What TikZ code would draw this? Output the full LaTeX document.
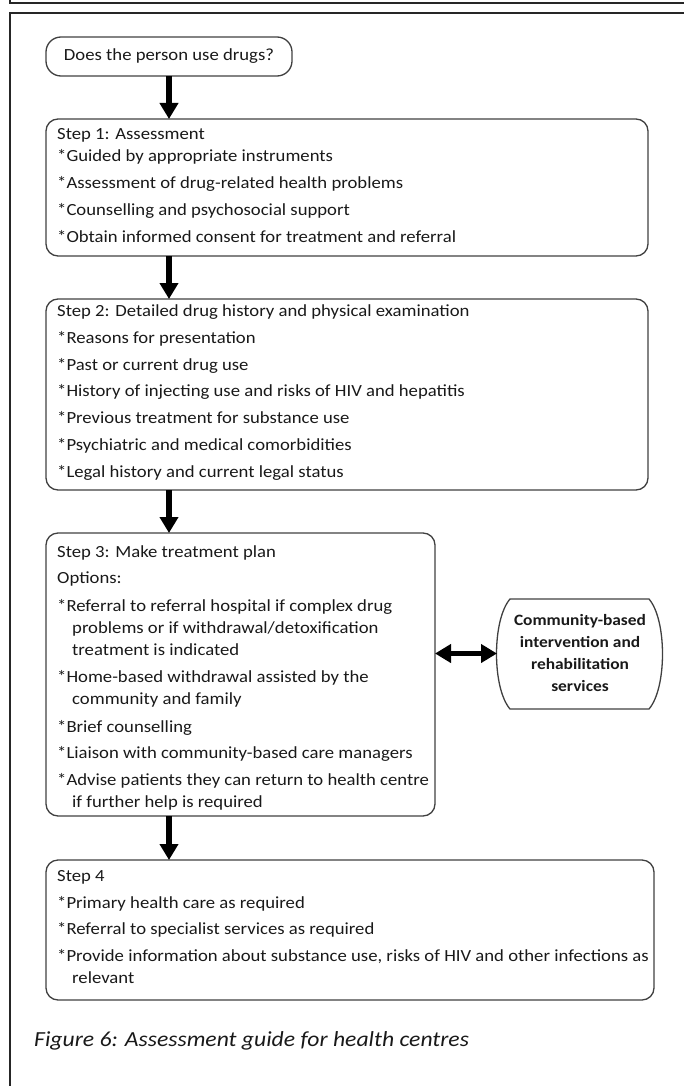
\documentclass[tikz,border=0pt]{standalone}
\usepackage{fontspec}
\setmainfont{Carlito}[FakeStretch=1.1]
\usetikzlibrary{arrows.meta,calc}
\begin{document}
\begin{tikzpicture}[x=1pt,y=-1pt,
  box/.style={draw=black!75, line width=1.3pt, rounded corners=12pt, outer sep=0pt, inner sep=0pt, anchor=north west},
  txt/.style={anchor=base west, inner sep=0pt, align=left, font=\fontsize{17}{22}\selectfont, text=black!90},
  arr/.style={line width=5.5pt, -{Triangle[length=16pt,width=18pt]}},
  darr/.style={line width=5.5pt, {Triangle[length=16pt,width=18pt]}-{Triangle[length=16pt,width=18pt]}},
  frame/.style={line width=2pt, draw=black!85}]
\useasboundingbox (0,0) rectangle (683,1086);
% frames
\draw[frame] (10,-2) -- (10,2.7) -- (690,2.7);
\draw[frame] (690,13) -- (10,13) -- (10,1090);
% start
\node[draw=black!75, line width=1.3pt, rounded corners=15pt, outer sep=0pt, minimum width=246pt, minimum height=39pt, font=\fontsize{17}{22}\selectfont, text=black!90] (q) at (169,56.5) {Does the person use drugs?};
% boxes
\node[box, minimum width=602pt, minimum height=137pt] (s1) at (46,119) {};
\node[box, minimum width=602pt, minimum height=191pt] (s2) at (46,299) {};
\node[box, minimum width=389pt, minimum height=283pt] (s3) at (46,533) {};
\node[box, minimum width=608pt, minimum height=140pt] (s4) at (46,860) {};
% texts (anchored at the baseline of their last line)
\node[txt] (t1) at (57,242) {Step 1: Assessment\\
*Guided by appropriate instruments\\[4.7pt]
*Assessment of drug-related health problems\\[4.7pt]
*Counselling and psychosocial support\\[4.7pt]
*Obtain informed consent for treatment and referral};
\node[txt] (t2) at (57,477) {Step 2: Detailed drug history and physical examination\\[4.7pt]
*Reasons for presentation\\[4.7pt]
*Past or current drug use\\[4.7pt]
*History of injecting use and risks of HIV and hepatitis\\[4.7pt]
*Previous treatment for substance use\\[4.7pt]
*Psychiatric and medical comorbidities\\[4.7pt]
*Legal history and current legal status};
\node[txt] (t3) at (57,807) {Step 3: Make treatment plan\\[4pt]
Options:\\[6pt]
*Referral to referral hospital if complex drug\\
\hspace*{15pt}problems or if withdrawal/detoxification\\
\hspace*{15pt}treatment is indicated\\[5pt]
*Home-based withdrawal assisted by the\\
\hspace*{15pt}community and family\\[6pt]
*Brief counselling\\[4pt]
*Liaison with community-based care managers\\[5pt]
*Advise patients they can return to health centre\\
\hspace*{15pt}if further help is required};
\node[txt] (t4) at (57,983) {Step 4\\[5pt]
*Primary health care as required\\[4pt]
*Referral to specialist services as required\\[5pt]
*Provide information about substance use, risks of HIV and other infections as\\
\hspace*{15pt}relevant};
% community box
\node[inner sep=0pt, outer sep=0pt, minimum width=166pt, minimum height=110pt, align=center, font=\fontsize{15.8}{22}\selectfont\bfseries, text=black!90] (c) at (580,653.5) {Community-based\\intervention and\\rehabilitation\\services};
\draw[draw=black!75, line width=1.3pt] (510,599) -- (649,599) .. controls (667,620) and (667,688) .. (649,709) -- (510,709) .. controls (492,688) and (492,620) .. (510,599) -- cycle;
% arrows
\draw[arr] (q.south) -- (q.south |- s1.north);
\draw[arr] (s1.south -| q.south) -- (s2.north -| q.south);
\draw[arr] (s2.south -| q.south) -- (s3.north -| q.south);
\draw[arr] (s3.south -| q.south) -- (s4.north -| q.south);
\draw[darr] (s3.east |- c.west) -- (c.west);
% caption
\node[anchor=base west, inner sep=0pt, font=\fontsize{21.5}{22}\selectfont\itshape, text=black!90] (cap) at (34,1046) {Figure 6: Assessment guide for health centres};
\end{tikzpicture}
\end{document}
